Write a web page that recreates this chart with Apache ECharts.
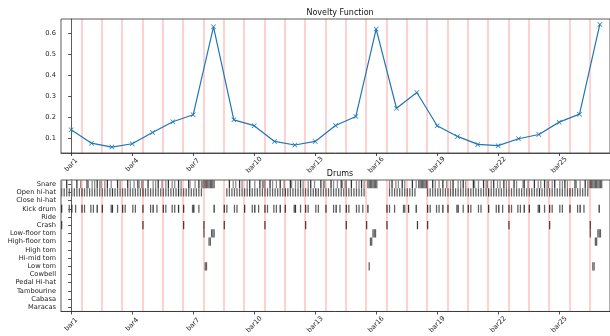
<!DOCTYPE html>
<html>
<head>
<meta charset="utf-8">
<script src="https://cdn.jsdelivr.net/npm/echarts@6.0.0/dist/echarts.min.js"></script>
<style>html,body{margin:0;padding:0;background:#fff}#c{width:610px;height:336px}</style>
</head>
<body>
<div id="c"></div>
<script>
// ---------- data ----------
const bars = ['bar1','bar2','bar3','bar4','bar5','bar6','bar7','bar8','bar9','bar10','bar11','bar12','bar13','bar14',
  'bar15','bar16','bar17','bar18','bar19','bar20','bar21','bar22','bar23','bar24','bar25','bar26','bar27'];
const tickLabels = ['bar1','bar4','bar7','bar10','bar13','bar16','bar19','bar22','bar25'];
const novelty = [0.140,0.076,0.057,0.073,0.127,0.178,0.211,0.630,0.187,0.159,0.084,0.067,0.084,0.160,
  0.203,0.619,0.242,0.317,0.159,0.108,0.070,0.064,0.097,0.117,0.176,0.214,0.641];
const noveltyTicks = [0.1,0.2,0.3,0.4,0.5,0.6];
const instruments = ['Snare','Open hi-hat','Close hi-hat','Kick drum','Ride','Crash','Low-floor tom',
  'High-floor tom','High tom','Hi-mid tom','Low tom','Cowbell','Pedal Hi-hat','Tambourine','Cabasa','Maracas'];

// 16 steps per bar: '.' none, 'o' soft, 'x' medium, 'X' loud
const snareBars = [
  'o...X...o...X..o','....Xo..o.o.X.oo','..o.X..o....X.o.','....X.o..o..Xo.o','o...X...o.o.X..o',
  '..o.X..o.o..X.o.','....Xo...o..X.oo','xxxxxxxxx.......','....X..o.o..X.o.','..o.X...o...X.oo',
  'o...X.o..o..X..o','....Xo..o.o.X.o.','..o.X..o....X.oo','....X.o..o..Xo.o','o...X...o.o.X.o.',
  '.xxxxxxxx.......','..o.X..o.o..X.o.','....X..o.xxxxxxx','o...X.o..o..X..o','..o.X...o.o.X.o.',
  '....Xo..o...X.oo','..o.X..o.o..X.o.','o...X.o....oX..o','....X..o.o..X.oo','..o.X...o.o.X.o.',
  '....Xo..o...X.oo','xxxxxxxxxx......'];
const hihatBars = [
  'x.x.x.x.x.x.x.x.','X.x.x.x.x.x.x.x.','x.x.x.x.X.x.x.x.','x.x.x.x.x.x.x.x.','X.x.x.x.x.x.x.x.',
  'x.x.x.x.x.x.X.x.','x.x.x.x.x.x.x.x.','................','..x.x.x.x.x.x.x.','x.x.X.x.x.x.x.x.',
  'x.x.x.x.x.x.x.x.','X.x.x.x.x.x.x.x.','x.x.x.x.X.x.x.x.','x.x.x.x.x.x.x.x.','x.x.x.x.x.x.x.x.',
  '................','..x.x.x.x.x.x.x.','x.x.x.x.........','x.x.x.x.x.x.x.x.','x.x.X.x.x.x.x.x.',
  'x.x.x.x.x.x.x.x.','X.x.x.x.x.x.x.x.','x.x.x.x.x.x.x.x.','x.x.x.x.X.x.x.x.','x.x.x.x.x.x.x.x.',
  'X.x.x.x.x.x.x.x.','................'];
const kickBars = [
  'X.....x.X..x....','X.x....x.x..X...','X......xX...x...','X.x.....x.x.....','X.....x.X..x....',
  'X.x....x.x..X...','X......xX...x...','........X.......','X.x.....x.x.....','X.....x.X..x....',
  'X.x....x.x..X...','X......xX...x...','X.x.....x.x.....','X.....x.X..x....','X.x.....x.x..x..',
  '.X..............','X.x...x......xx.','.X.....X........','X.x....x.x..X...','X......xX...x...',
  'X.x.....x.x.....','X.....x.X..x....','X.x....x.x..X...','X......xX...x...','X.x.....x.x.....',
  'X.....x.X..x....','.......X........'];
// sparse hits: [bar number, step]
const crashHits = [[1,0],[5,0],[7,0],[8,0],[9,0],[11,0],[13,0],[15,0],[16,0],[17,0],[18,8],[19,0],[23,0],[25,0],[27,0]];
const lowFloorTomHits = [[8,0],[8,6],[8,7],[8,8],[16,5],[16,6],[16,7],[27,0],[27,6],[27,7],[27,8]];
const highFloorTomHits = [[8,4],[8,5],[16,3],[16,4],[27,4],[27,5]];
const lowTomHits = [[8,1],[8,2],[16,2],[27,2],[27,3]];

// ---------- build ----------
const vel = {o:0.45, x:0.62, X:0.8};
const hits = [];
function addBars(strs, row){
  strs.forEach((s, b) => { for (let k = 0; k < 16; k++) { const c = s[k]; if (c !== '.') hits.push([b - 0.5 + k/16, row, vel[c]]); } });
}
function addSparse(list, row, v){ list.forEach(([b, k]) => hits.push([b - 1.5 + k/16, row, v])); }
addBars(snareBars, 0);
addBars(hihatBars, 1);
addBars(kickBars, 3);
addSparse(crashHits, 5, 0.75);
addSparse(lowFloorTomHits, 6, 0.62);
addSparse(highFloorTomHits, 7, 0.62);
addSparse(lowTomHits, 10, 0.62);

const barBounds = bars.slice(1).map((_, i) => i + 0.5);
const tickPos = tickLabels.map(t => bars.indexOf(t));
const redLine = {
  silent: true, symbol: ['none','none'], label: {show: false},
  lineStyle: {color: 'rgba(255,0,0,0.24)', width: 1.5, type: 'solid'},
  emphasis: {disabled: true}, animation: false,
  data: barBounds.map(v => ({xAxis: v}))
};
const FONT = 'DejaVu Sans';
const txt = '#222';
const spine = {show: true, lineStyle: {color: '#333', width: 0.8}};
function xAxisCfg(idx, margin){
  return {
    type: 'value', gridIndex: idx, min: -0.5, max: bars.length - 0.5,
    splitLine: {show: false},
    axisLine: spine,
    axisTick: {show: true, length: 3, lineStyle: {color: txt, width: 0.8}, customValues: tickPos},
    axisLabel: {show: true, customValues: tickPos, rotate: 45, align: 'center', verticalAlign: 'middle',
      margin: margin, fontSize: 6.7, fontFamily: FONT, color: txt,
      formatter: v => bars[Math.round(v)]}
  };
}
const xCross = 'path://M0,1L1,0L5,4L9,0L10,1L6,5L10,9L9,10L5,6L1,10L0,9L4,5Z';

const option = {
  animation: false,
  backgroundColor: '#fff',
  graphic: [
    {type: 'text', x: 340, y: 12.5, style: {text: 'Novelty Function', fontSize: 8, fontFamily: FONT, fill: '#111', align: 'center', verticalAlign: 'middle'}},
    {type: 'text', x: 340, y: 174, style: {text: 'Drums', fontSize: 8, fontFamily: FONT, fill: '#111', align: 'center', verticalAlign: 'middle'}}
  ],
  grid: [
    {left: 61, top: 19, width: 558, height: 134, show: true, borderColor: '#333', borderWidth: 0.8},
    {left: 61, top: 180, width: 558, height: 134, show: true, borderColor: '#333', borderWidth: 0.8}
  ],
  xAxis: [xAxisCfg(0, 12), xAxisCfg(1, 13)],
  yAxis: [
    {type: 'value', gridIndex: 0, min: 0.029, max: 0.667, splitLine: {show: false},
      axisLine: spine,
      axisTick: {show: true, length: 3, lineStyle: {color: txt, width: 0.8}, customValues: noveltyTicks},
      axisLabel: {show: true, customValues: noveltyTicks, margin: 5, fontSize: 6.7, fontFamily: FONT, color: txt,
        formatter: v => v.toFixed(1)}},
    {type: 'category', gridIndex: 1, data: instruments, inverse: true,
      axisLine: spine,
      axisTick: {show: true, alignWithLabel: true, length: 3, lineStyle: {color: txt, width: 0.8}},
      axisLabel: {show: true, interval: 0, margin: 5, fontSize: 6.7, fontFamily: FONT, color: txt}}
  ],
  series: [
    {type: 'line', xAxisIndex: 0, yAxisIndex: 0, z: 3,
      data: novelty.map((v, i) => [i, v]),
      lineStyle: {color: '#1f77b4', width: 1.2},
      symbol: xCross, symbolSize: 5, itemStyle: {color: '#1f77b4'}, showSymbol: true,
      markLine: Object.assign({z: 1}, redLine)},
    {type: 'custom', xAxisIndex: 1, yAxisIndex: 1, clip: true,
      encode: {x: 0, y: 1},
      data: hits,
      renderItem: function(params, api){
        const p = api.coord([api.value(0), api.value(1)]);
        const s = api.size([1/16, 1]);
        const g = Math.round(255 * (1 - api.value(2)));
        return {type: 'rect', shape: {x: p[0], y: p[1] - s[1]/2, width: s[0], height: s[1]},
          style: {fill: 'rgb(' + g + ',' + g + ',' + g + ')'}};
      },
      markLine: redLine}
  ]
};
echarts.init(document.getElementById('c'), null, {renderer: 'canvas'}).setOption(option);
</script>
</body>
</html>
